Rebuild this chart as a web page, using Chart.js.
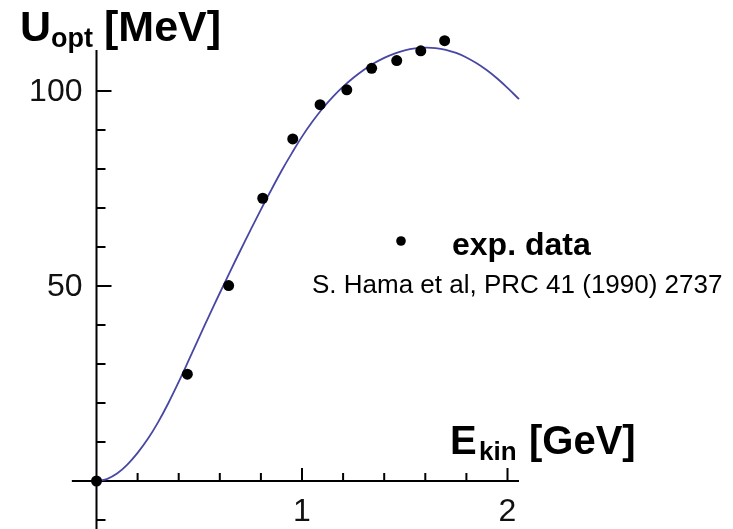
<!DOCTYPE html>
<html>
<head>
<meta charset="utf-8">
<script src="https://cdn.jsdelivr.net/npm/chart.js@4/dist/chart.umd.min.js"></script>
<style>
  html, body { margin: 0; padding: 0; background: #fff; }
  #wrap { position: relative; width: 733px; height: 529px; overflow: hidden; }
  canvas { position: absolute; left: 0; top: 0; }
  .t { position: absolute; font-family: 'Liberation Sans', Arial, sans-serif; color: #000; white-space: nowrap; line-height: 1; }
  .b { font-weight: bold; }
</style>
</head>
<body>
<div id="wrap">
  <canvas id="c" width="733" height="529"></canvas>
  <div class="t b" style="left:20px; top:5px; font-size:43px;">U</div>
  <div class="t b" style="left:51px; top:25px; font-size:27px;">opt</div>
  <div class="t b" style="left:104px; top:5px; font-size:43px;">[MeV]</div>
  <div class="t b" style="left:450px; top:420px; font-size:40px;">E</div>
  <div class="t b" style="left:479px; top:438px; font-size:26px;">kin</div>
  <div class="t b" style="left:529px; top:420px; font-size:40px;">[GeV]</div>
  <div class="t b" style="left:452px; top:228px; font-size:32px;">exp. data</div>
  <div class="t" style="left:312px; top:271px; font-size:26px;">S. Hama et al, PRC 41 (1990) 2737</div>
</div>
<script>
// ---- data ----
const expX = [0, 0.442, 0.643, 0.809, 0.955, 1.088, 1.218, 1.339, 1.461, 1.578, 1.694];
const expY = [0, 27.4, 50.1, 72.5, 87.7, 96.5, 100.3, 105.8, 107.8, 110.3, 112.9];

const curveX = [0, 0.05, 0.1, 0.15, 0.2, 0.25, 0.3, 0.35, 0.4, 0.45, 0.5, 0.55, 0.6, 0.65, 0.7, 0.75, 0.8, 0.85, 0.9, 0.95, 1.0,
                1.05, 1.1, 1.15, 1.2, 1.25, 1.3, 1.35, 1.4, 1.45, 1.5, 1.55, 1.6, 1.65, 1.7, 1.75, 1.8, 1.85, 1.9, 1.95, 2.0, 2.056];
const curveY = [0, 0.5, 1.9, 4.2, 7.2, 10.8, 15.1, 20.0, 25.4, 31.1, 36.9, 42.6, 48.2, 53.7, 59.1, 64.4, 69.6, 74.6, 79.5, 84.0, 88.3,
                92.1, 95.5, 98.5, 101.1, 103.4, 105.4, 107.1, 108.5, 109.6, 110.4, 110.9, 111.1, 111.0, 110.55, 109.75, 108.6, 107.1, 105.3, 103.2, 100.8, 97.9];

const xMajorTicks = [1, 2];
const xMinorTicks = [0.2, 0.4, 0.6, 0.8, 1.2, 1.4, 1.6, 1.8];
const yMajorTicks = [50, 100];
const yMinorTicks = [-10, 10, 20, 30, 40, 60, 70, 80, 90];
const xTickLabels = ['1', '2'];
const yTickLabels = ['50', '100'];

const xAxisRange = [-0.12, 2.056];
const yAxisRange = [-12.3, 110.5];

const axesPlugin = {
  id: 'crossAxes',
  beforeDatasetsDraw(chart) {
    const ctx = chart.ctx;
    const xs = chart.scales.x, ys = chart.scales.y;
    const x0 = xs.getPixelForValue(0), y0 = ys.getPixelForValue(0);
    ctx.save();
    ctx.strokeStyle = '#000';
    ctx.lineWidth = 2;
    ctx.lineCap = 'butt';
    ctx.beginPath();
    ctx.moveTo(xs.getPixelForValue(xAxisRange[0]), y0);
    ctx.lineTo(xs.getPixelForValue(xAxisRange[1]), y0);
    ctx.moveTo(x0, ys.getPixelForValue(yAxisRange[0]));
    ctx.lineTo(x0, ys.getPixelForValue(yAxisRange[1]));
    ctx.stroke();
    ctx.beginPath();
    xMajorTicks.forEach(v => { const p = xs.getPixelForValue(v); ctx.moveTo(p, y0); ctx.lineTo(p, y0 - 13); });
    xMinorTicks.forEach(v => { const p = xs.getPixelForValue(v); ctx.moveTo(p, y0); ctx.lineTo(p, y0 - 8); });
    yMajorTicks.forEach(v => { const p = ys.getPixelForValue(v); ctx.moveTo(x0, p); ctx.lineTo(x0 + 15, p); });
    yMinorTicks.forEach(v => { const p = ys.getPixelForValue(v); ctx.moveTo(x0, p); ctx.lineTo(x0 + 9, p); });
    ctx.stroke();
    ctx.fillStyle = '#111';
    ctx.font = '32px "Liberation Sans", Arial, sans-serif';
    ctx.textAlign = 'center';
    ctx.textBaseline = 'middle';
    xMajorTicks.forEach((v, i) => ctx.fillText(xTickLabels[i], xs.getPixelForValue(v), y0 + 31));
    ctx.textAlign = 'right';
    yMajorTicks.forEach((v, i) => ctx.fillText(yTickLabels[i], x0 - 14, ys.getPixelForValue(v) + 1));
    // legend marker
    ctx.fillStyle = '#000';
    ctx.beginPath();
    ctx.arc(401, 241, 4.8, 0, Math.PI * 2);
    ctx.fill();
    ctx.restore();
  }
};

new Chart(document.getElementById('c'), {
  type: 'scatter',
  data: {
    datasets: [
      {
        label: 'fit',
        data: curveX.map((x, i) => ({ x, y: curveY[i] })),
        showLine: true,
        pointRadius: 0,
        borderColor: '#4848a4',
        borderWidth: 1.8,
        tension: 0.4,
        order: 2
      },
      {
        label: 'exp. data',
        data: expX.map((x, i) => ({ x, y: expY[i] })),
        showLine: false,
        pointRadius: 5.5,
        pointBackgroundColor: '#000',
        pointBorderWidth: 0,
        order: 1
      }
    ]
  },
  options: {
    responsive: false,
    animation: false,
    devicePixelRatio: 1,
    layout: { padding: 0, autoPadding: false },
    plugins: { legend: { display: false }, tooltip: { enabled: false } },
    scales: {
      x: { type: 'linear', min: -0.4696, max: 3.0973, display: false },
      y: { type: 'linear', min: -12.31, max: 123.33, display: false }
    }
  },
  plugins: [axesPlugin]
});
</script>
</body>
</html>
